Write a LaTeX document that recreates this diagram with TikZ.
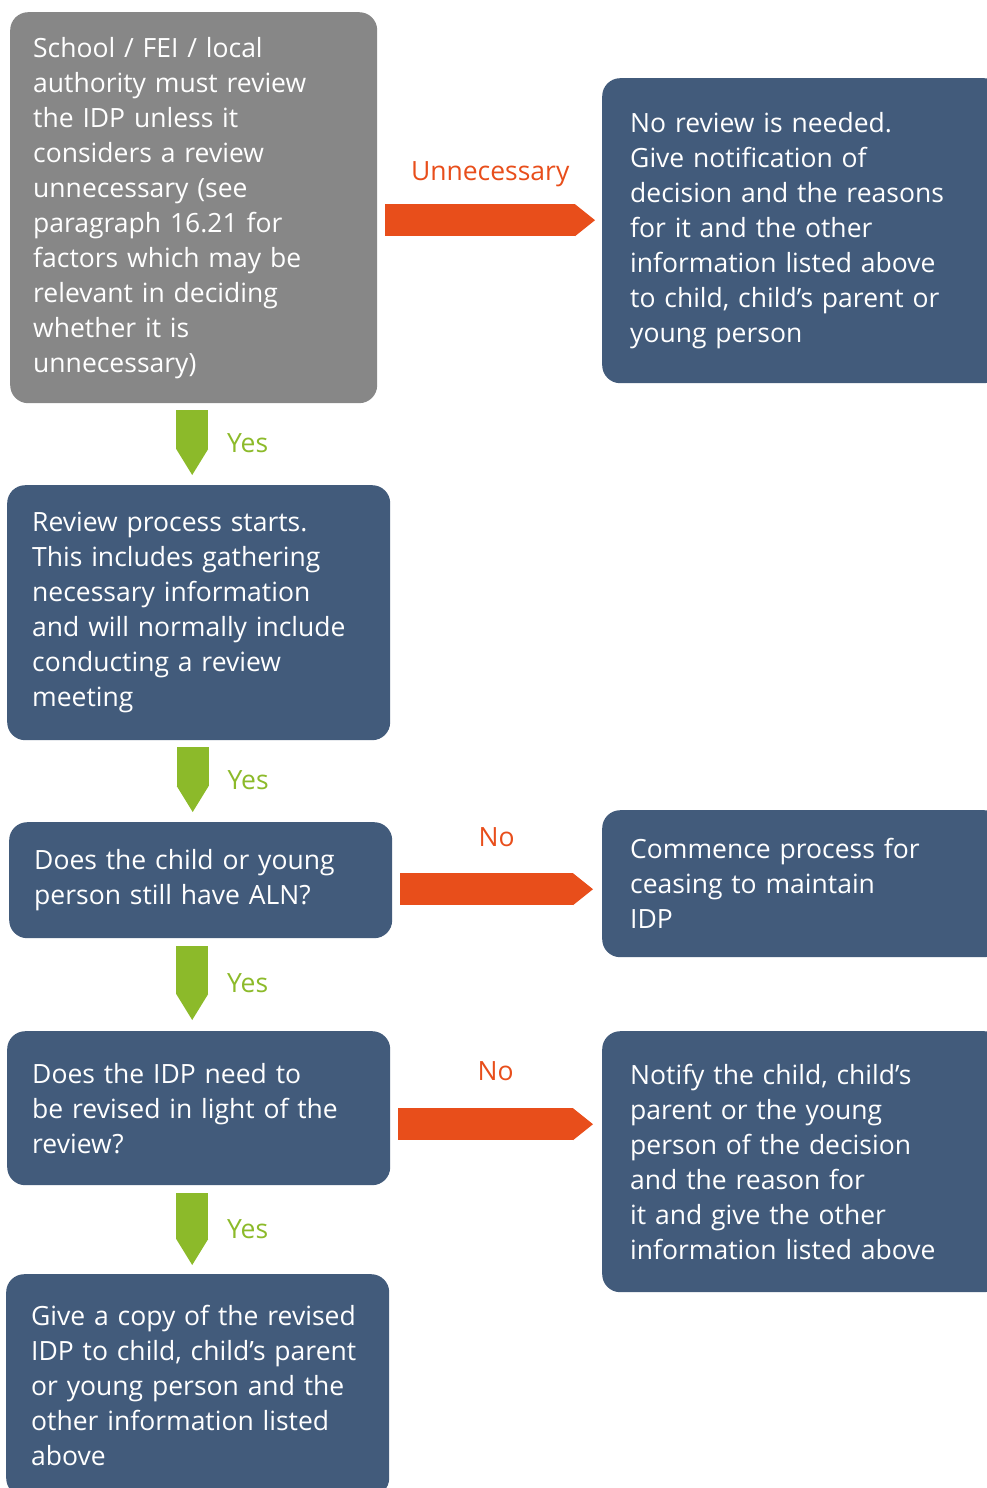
\documentclass[tikz,border=0pt]{standalone}
\usepackage{fontspec}
\setmainfont{Open Sans}
\usetikzlibrary{arrows.meta,calc}
\hyphenpenalty=10000
\exhyphenpenalty=10000

\definecolor{boxgrey}{HTML}{878787}
\definecolor{boxblue}{HTML}{425B7B}
\definecolor{noorange}{HTML}{E84E1B}
\definecolor{yesgreen}{HTML}{8CBA2A}

\tikzset{
  box/.style={anchor=north west, rounded corners=18pt, fill=boxblue, text=white,
    align=left, inner xsep=25pt, inner ysep=0pt, text width=333pt,
    font=\fontsize{26.5}{35}\selectfont},
  greybox/.style={box, fill=boxgrey, inner xsep=23pt, text width=321pt},
  sidebox/.style={box, inner xsep=28pt, text width=344pt},
  noarrow/.style={draw=noorange, line width=32pt,
    -{Triangle[width=32pt,length=20pt,line width=0pt,fill=noorange]}},
  yesarrow/.style={draw=yesgreen, line width=32pt,
    -{Triangle[width=32pt,length=26pt,line width=0pt,fill=yesgreen]}},
  nolabel/.style={text=noorange, inner sep=0pt, outer sep=0pt, text height=19pt,
    text depth=0pt, font=\fontsize{26.5}{35}\selectfont},
  yeslabel/.style={nolabel, text=yesgreen}
}

\begin{document}
\begin{tikzpicture}[x=1pt, y=-1pt]
        \useasboundingbox (0,0) rectangle (987,1488);
        \clip (0,0) rectangle (987,1488);

        % left column
        \node[greybox, minimum height=391pt] (review) at (10,12) {School / FEI / local\\authority must review\\the IDP unless it\\considers a review\\unnecessary (see\\paragraph 16.21 for\\factors which may be\\relevant in deciding\\whether it is\\unnecessary)};
        \node[box, minimum height=255pt] (process) at (7,485) {Review process starts.\\This includes gathering\\necessary information\\and will normally include\\conducting a review\\meeting};
        \node[box, minimum height=116pt] (aln) at (9,822) {Does the child or young\\person still have ALN?};
        \node[box, minimum height=154pt] (revised) at (7,1031) {Does the IDP need to\\be revised in light of the\\review?};
        \node[box, minimum height=222pt] (copy) at (6,1274) {Give a copy of the revised\\IDP to child, child’s parent\\or young person and the\\other information listed\\above};

        % right column
        \node[sidebox, minimum height=305pt] (noreview) at (602,78) {No review is needed.\\Give notification of\\decision and the reasons\\for it and the other\\information listed above\\to child, child’s parent or\\young person};
        \node[sidebox, minimum height=147pt] (cease) at (602,810) {Commence process for\\ceasing to maintain\\IDP};
        \node[sidebox, minimum height=261pt] (notify) at (602,1031) {Notify the child, child’s\\parent or the young\\person of the decision\\and the reason for\\it and give the other\\information listed above};

        % orange arrows
        \draw[noarrow] ($(review.east)+(8pt,-12.5pt)$) -- ($(review.east -| noreview.west)+(-7pt,-12.5pt)$) node[nolabel, midway, above=40pt] {Unnecessary};
        \draw[noarrow] ($(aln.east)+(8pt,-9pt)$) -- ($(aln.east -| cease.west)+(-9pt,-9pt)$) node[nolabel, midway, above=43pt] {No};
        \draw[noarrow] ($(revised.east)+(8pt,-16pt)$) -- ($(revised.east -| notify.west)+(-9pt,-16pt)$) node[nolabel, midway, above=44pt] {No};

        % green arrows
        \draw[yesarrow] ($(review.south)+(-1.5pt,-7pt)$) -- ($(review.south |- process.north)+(-1.5pt,10pt)$) node[yeslabel, midway, right=35pt] {Yes};
        \draw[yesarrow] ($(process.south)+(-6pt,-7pt)$) -- ($(process.south |- aln.north)+(-6pt,10pt)$) node[yeslabel, midway, right=35pt] {Yes};
        \draw[yesarrow] ($(aln.south)+(-8.5pt,-8pt)$) -- ($(aln.south |- revised.north)+(-8.5pt,11pt)$) node[yeslabel, midway, right=35pt] {Yes};
        \draw[yesarrow] ($(revised.south)+(-6.5pt,-8pt)$) -- ($(revised.south |- copy.north)+(-6.5pt,9pt)$) node[yeslabel, midway, right=35pt] {Yes};
    \end{tikzpicture}
\end{document}
